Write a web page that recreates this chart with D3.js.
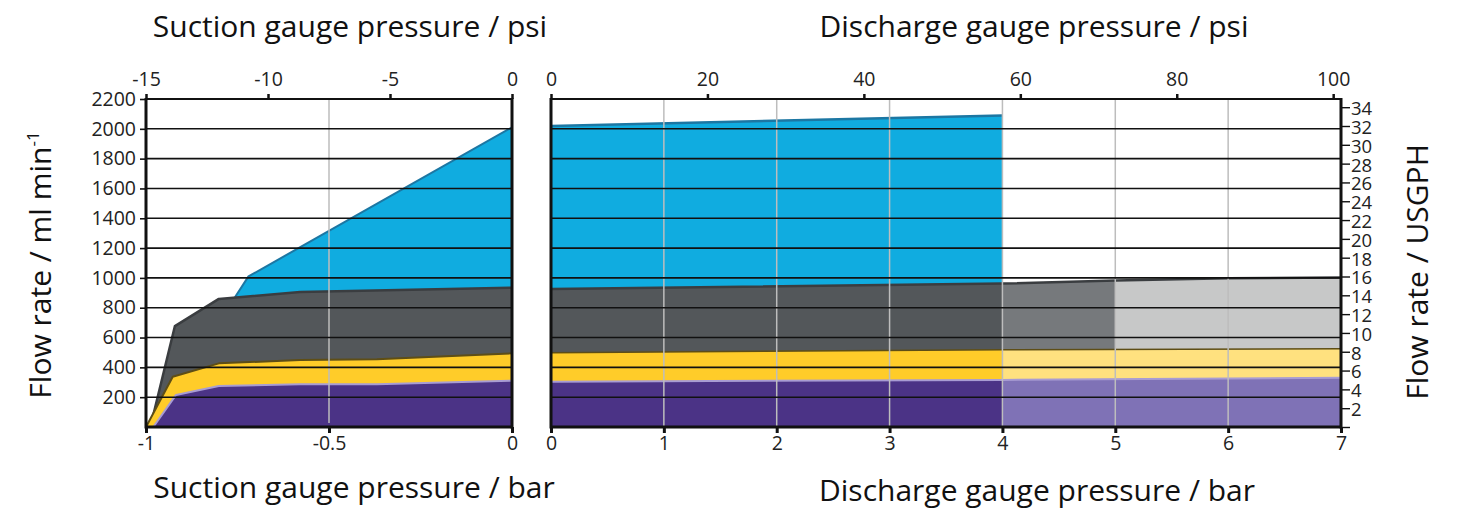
<!DOCTYPE html>
<html>
<head>
<meta charset="utf-8">
<script src="https://cdn.jsdelivr.net/npm/d3@7"></script>
<style>
  html, body { margin: 0; padding: 0; background: #fff; }
  svg { display: block; font-family: "Open Sans", "Noto Sans", sans-serif; }
</style>
</head>
<body>
<svg id="chart" width="1462" height="509"></svg>
<script>
// ---------- data (bar, ml/min) ----------
const leftBlue   = [[-0.757, 870], [-0.72, 1010], [0, 2010]];
const leftGray   = [[-0.988, 0], [-0.921, 677], [-0.801, 859], [-0.579, 905], [0, 934]];
const leftYellow = [[-1.0, 0], [-0.927, 337], [-0.801, 427], [-0.579, 449], [-0.369, 454], [0, 494]];
const leftPurple = [[-0.98, 0], [-0.918, 215], [-0.801, 275], [-0.579, 286], [-0.369, 286], [0, 311]];

const rightBlue   = [[0, 2019], [4, 2089]];
const rightGray   = [[0, 925], [4, 962], [5, 982], [6, 998], [7, 1002]];
const rightYellow = [[0, 498], [4, 518], [7, 525]];
const rightPurple = [[0, 304], [4, 316], [7, 330]];

const flowTicks     = [200, 400, 600, 800, 1000, 1200, 1400, 1600, 1800, 2000, 2200];
const usgphTicks    = [0, 2, 4, 6, 8, 10, 12, 14, 16, 18, 20, 22, 24, 26, 28, 30, 32, 34];
const psiLeftTicks  = [-15, -10, -5, 0];
const psiRightTicks = [0, 20, 40, 60, 80, 100];
const barLeftTicks  = [-1, -0.5, 0];
const barRightTicks = [0, 1, 2, 3, 4, 5, 6, 7];
const leftVGrid     = [-0.5];
const rightVGrid    = [1, 2, 3, 4, 5, 6];
const mlPerUSGPH = 3785.41 / 60;

// ---------- colours ----------
const C = {
  blue: "#10ACE0", blueLine: "#1C77A3",
  gray: "#53575A", grayMid: "#76797C", grayLight: "#C7C8C8", grayLine: "#3A3D40",
  yellow: "#FFCC29", yellowLight: "#FFE17F", yellowLine: "#5E4E16",
  purple: "#4B3386", purpleLight: "#7F72B6", purpleLine: "#A89CD3"
};

const svg = d3.select("#chart");
const yTop = 99, yBot = 427;
const y = d3.scaleLinear().domain([0, 2200]).range([yBot, yTop]);
const yUS = d3.scaleLinear().domain([0, 2200 / mlPerUSGPH]).range([yBot, yTop]);

const xL = d3.scaleLinear().domain([-1, 0]).range([146, 512]);
const xR = d3.scaleLinear().domain([0, 7]).range([551, 1341]);
const pL = d3.scaleLinear().domain([-15, 0]).range([146, 512]);
const pR = d3.scaleLinear().domain([0, 101]).range([551, 1341]);

const fmt = d => String(d);   // plain hyphen-minus like the reference

const defs = svg.append("defs");
function clip(id, x0, x1) {
  defs.append("clipPath").attr("id", id).append("rect")
    .attr("x", x0).attr("y", yTop - 20).attr("width", x1 - x0).attr("height", yBot - yTop + 20);
}
clip("cL", xL(-1), xL(0));
clip("c04", xR(0), xR(4));
clip("c45", xR(4), xR(5));
clip("c57", xR(5), xR(7));
clip("c47", xR(4), xR(7));

function drawSeries(g, data, xs, fill, clipId) {
  const area = d3.area().x(d => xs(d[0])).y0(y(0)).y1(d => y(d[1]));
  g.append("path").attr("d", area(data)).attr("fill", fill)
    .attr("clip-path", clipId ? `url(#${clipId})` : null);
}
function drawLine(g, data, xs, stroke, sw) {
  const line = d3.line().x(d => xs(d[0])).y(d => y(d[1]));
  g.append("path").attr("d", line(data)).attr("fill", "none")
    .attr("stroke", stroke).attr("stroke-width", sw || 2).attr("stroke-linejoin", "round");
}

// ---------- left panel ----------
const gL = svg.append("g");
drawSeries(gL, leftBlue, xL, C.blue, "cL");
drawLine(gL, leftBlue, xL, C.blueLine, 2);
drawSeries(gL, leftGray, xL, C.gray, null);
drawLine(gL, leftGray, xL, C.grayLine, 2.5);
drawSeries(gL, leftYellow, xL, C.yellow, null);
drawLine(gL, leftYellow, xL, C.yellowLine, 2);
drawSeries(gL, leftPurple, xL, C.purple, null);
drawLine(gL, leftPurple, xL, C.purpleLine, 2);

// ---------- right panel ----------
const gR = svg.append("g");
drawSeries(gR, rightBlue, xR, C.blue, "c04");
drawLine(gR, rightBlue, xR, C.blueLine, 2.5);
drawSeries(gR, rightGray, xR, C.gray, "c04");
drawSeries(gR, rightGray, xR, C.grayMid, "c45");
drawSeries(gR, rightGray, xR, C.grayLight, "c57");
drawLine(gR, rightGray, xR, C.grayLine, 2.5);
drawSeries(gR, rightYellow, xR, C.yellow, "c04");
drawSeries(gR, rightYellow, xR, C.yellowLight, "c47");
drawLine(gR, rightYellow, xR, C.yellowLine, 1.5);
drawSeries(gR, rightPurple, xR, C.purple, "c04");
drawSeries(gR, rightPurple, xR, C.purpleLight, "c47");
drawLine(gR, rightPurple, xR, C.purpleLine, 2);

// ---------- grid ----------
const grid = svg.append("g");
leftVGrid.forEach(v => grid.append("line")
  .attr("x1", xL(v)).attr("x2", xL(v)).attr("y1", yTop).attr("y2", yBot - 4)
  .attr("stroke", "#BDBDBD").attr("stroke-width", 1.5));
rightVGrid.forEach(v => grid.append("line")
  .attr("x1", xR(v)).attr("x2", xR(v)).attr("y1", yTop).attr("y2", yBot)
  .attr("stroke", "#BDBDBD").attr("stroke-width", 1.5));
flowTicks.filter(t => t < 2200).forEach(t => {
  grid.append("line").attr("x1", xL(-1)).attr("x2", xL(0)).attr("y1", y(t)).attr("y2", y(t))
    .attr("stroke", "#111").attr("stroke-width", 1.6);
  grid.append("line").attr("x1", xR(0)).attr("x2", xR(7)).attr("y1", y(t)).attr("y2", y(t))
    .attr("stroke", "#111").attr("stroke-width", 1.6);
});

// ---------- axes ----------
const fs = 19.5;
function styleAxis(g, sw, size) {
  g.select(".domain").remove();
  g.selectAll(".tick line").attr("stroke", "#111").attr("stroke-width", sw);
  g.selectAll(".tick text").attr("font-size", size || fs).attr("fill", "#222")
    .attr("font-family", "'Open Sans', 'Noto Sans', sans-serif");
}
const axL = svg.append("g").attr("transform", `translate(${xL(-1)},0)`)
  .call(d3.axisLeft(y).tickValues(flowTicks).tickSize(6).tickPadding(4).tickFormat(fmt));
styleAxis(axL, 1.6);
const axUS = svg.append("g").attr("transform", `translate(${xR(7)},0)`)
  .call(d3.axisRight(yUS).tickValues(usgphTicks).tickSize(9).tickPadding(1)
    .tickFormat(d => d === 0 ? "" : fmt(d)));
styleAxis(axUS, 1.4, 18.5);
axUS.selectAll(".tick text").attr("dy", "0.4em");
const axPL = svg.append("g").attr("transform", `translate(0,${yTop})`)
  .call(d3.axisTop(pL).tickValues(psiLeftTicks).tickSize(5).tickPadding(8).tickFormat(fmt));
styleAxis(axPL, 2.5);
const axPR = svg.append("g").attr("transform", `translate(0,${yTop})`)
  .call(d3.axisTop(pR).tickValues(psiRightTicks).tickSize(5).tickPadding(8).tickFormat(fmt));
styleAxis(axPR, 2.5);
const axBL = svg.append("g").attr("transform", `translate(0,${yBot})`)
  .call(d3.axisBottom(xL).tickValues(barLeftTicks).tickSize(6).tickPadding(3).tickFormat(fmt));
styleAxis(axBL, 3);
const axBR = svg.append("g").attr("transform", `translate(0,${yBot})`)
  .call(d3.axisBottom(xR).tickValues(barRightTicks).tickSize(6).tickPadding(3).tickFormat(fmt));
styleAxis(axBR, 3);

// frames
const fr = svg.append("g").attr("stroke", "#111").attr("fill", "none");
fr.append("line").attr("x1", xL(-1)).attr("x2", xL(0)).attr("y1", yTop).attr("y2", yTop).attr("stroke-width", 2);
fr.append("line").attr("x1", xL(-1)).attr("x2", xL(0)).attr("y1", yBot).attr("y2", yBot).attr("stroke-width", 3);
fr.append("line").attr("x1", xL(-1)).attr("x2", xL(-1)).attr("y1", yTop - 1).attr("y2", yBot + 1.5).attr("stroke-width", 3);
fr.append("line").attr("x1", xL(0)).attr("x2", xL(0)).attr("y1", yTop - 1).attr("y2", yBot + 1.5).attr("stroke-width", 3);
fr.append("line").attr("x1", xR(0)).attr("x2", xR(7)).attr("y1", yTop).attr("y2", yTop).attr("stroke-width", 2);
fr.append("line").attr("x1", xR(0)).attr("x2", xR(7)).attr("y1", yBot).attr("y2", yBot).attr("stroke-width", 3);
fr.append("line").attr("x1", xR(0)).attr("x2", xR(0)).attr("y1", yTop - 1).attr("y2", yBot + 1.5).attr("stroke-width", 3);
fr.append("line").attr("x1", xR(7)).attr("x2", xR(7)).attr("y1", yTop - 1).attr("y2", yBot + 1.5).attr("stroke-width", 3);

// ---------- titles ----------
const tfs = 30;
function title(txt, x, yy, rot) {
  const t = svg.append("text").attr("font-size", tfs).attr("fill", "#111")
    .attr("text-anchor", "middle");
  if (rot) t.attr("transform", `translate(${x},${yy}) rotate(-90)`);
  else t.attr("x", x).attr("y", yy);
  t.text(txt);
  return t;
}
title("Suction gauge pressure / psi", 350, 37);
title("Discharge gauge pressure / psi", 1034, 37);
title("Suction gauge pressure / bar", 354, 498);
title("Discharge gauge pressure / bar", 1037, 501);
const yt = svg.append("text").attr("font-size", tfs).attr("fill", "#111")
  .attr("text-anchor", "middle").attr("transform", "translate(51,265) rotate(-90)");
yt.append("tspan").text("Flow rate / ml min");
yt.append("tspan").attr("font-size", 17).attr("dy", -12).text("-1");
title("Flow rate / USGPH", 1428, 272, true);
</script>
</body>
</html>
